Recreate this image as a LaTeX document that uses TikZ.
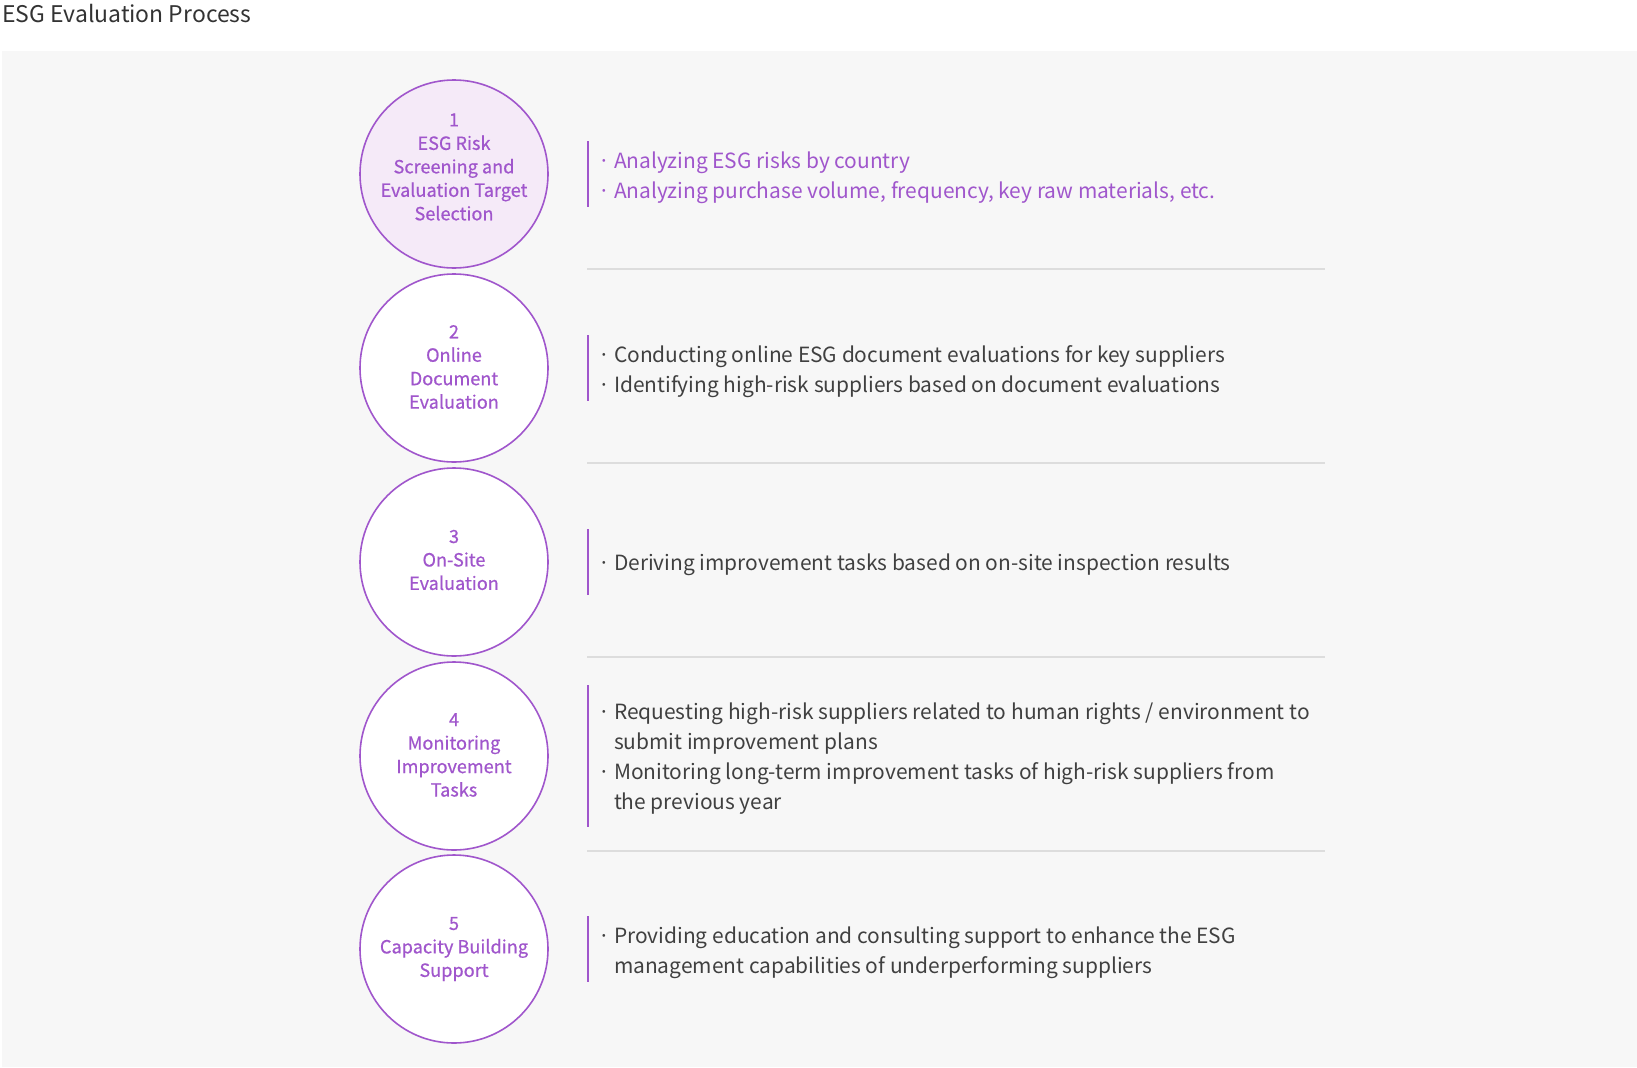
\documentclass[tikz,border=0pt]{standalone}
\usepackage{fontspec}
\setmainfont{Noto Sans CJK KR}
\newfontfamily\circfont{Noto Sans CJK KR}[FakeBold=0.6]
\definecolor{bggray}{HTML}{F7F7F7}
\definecolor{esgpurple}{HTML}{A056CC}
\definecolor{lavfill}{HTML}{F5EAF8}
\definecolor{sepgray}{HTML}{DDDDDD}
\definecolor{bodygray}{HTML}{404040}
\definecolor{titlegray}{HTML}{333333}
\tikzset{
  stepcircle/.style={circle, draw=esgpurple, line width=1.2pt, fill=white, minimum size=141pt, inner sep=0pt},
  steplabel/.style={inner sep=0pt, align=center, text=esgpurple, font=\circfont\fontsize{13.6}{17.6}\selectfont},
  itemtext/.style={anchor=west, inner sep=0pt, font=\fontsize{15.7}{22.5}\selectfont, text=bodygray},
  vbar/.style={draw=esgpurple, line width=1.3pt},
  sepline/.style={draw=sepgray, line width=1.3pt},
}
\newcommand{\itembl}{\textperiodcentered}
\begin{document}
\begin{tikzpicture}[x=0.75pt,y=-0.75pt]
\useasboundingbox (0,0) rectangle (1637,1067);
\fill[bggray] (2,51) rectangle (1637,1067);
\node[anchor=base west, inner sep=0pt, font=\fontsize{17.2}{22}\selectfont, text=titlegray] (title) at (2,22) {ESG Evaluation Process};

% circles
\node[stepcircle, fill=lavfill] (c1) at (454,174) {};
\node[stepcircle] (c2) at (454,368) {};
\node[stepcircle] (c3) at (454,562) {};
\node[stepcircle] (c4) at (454,756) {};
\node[stepcircle] (c5) at (454,949) {};
\node[steplabel] (l1) at (454,167) {1\\ESG Risk\\Screening and\\Evaluation Target\\Selection};
\node[steplabel] (l2) at (454,367) {2\\Online\\Document\\Evaluation};
\node[steplabel] (l3) at (454,560) {3\\On-Site\\Evaluation};
\node[steplabel] (l4) at (454,755) {4\\Monitoring\\Improvement\\Tasks};
\node[steplabel] (l5) at (454,949) {5\\Capacity Building\\Support};

% separators
\draw[sepline] (587,269) -- (1325,269);
\draw[sepline] (587,463) -- (1325,463);
\draw[sepline] (587,657) -- (1325,657);
\draw[sepline] (587,851) -- (1325,851);

% vertical bars
\draw[vbar] (588,141) -- (588,207);
\draw[vbar] (588,335) -- (588,401);
\draw[vbar] (588,529) -- (588,595);
\draw[vbar] (588,685) -- (588,827);
\draw[vbar] (588,916) -- (588,982);

% texts
\node[itemtext, text=esgpurple] (t1) at (598,177) {\begin{tabular}{@{}l@{\hspace{3pt}}l@{}}
\itembl & Analyzing ESG risks by country\\
\itembl & Analyzing purchase volume, frequency, key raw materials, etc.
\end{tabular}};
\node[itemtext] (t2) at (598,371) {\begin{tabular}{@{}l@{\hspace{3pt}}l@{}}
\itembl & Conducting online ESG document evaluations for key suppliers\\
\itembl & Identifying high-risk suppliers based on document evaluations
\end{tabular}};
\node[itemtext] (t3) at (598,564) {\begin{tabular}{@{}l@{\hspace{3pt}}l@{}}
\itembl & Deriving improvement tasks based on on-site inspection results
\end{tabular}};
\node[itemtext] (t4) at (598,758) {\begin{tabular}{@{}l@{\hspace{3pt}}l@{}}
\itembl & Requesting high-risk suppliers related to human rights / environment to\\
 & submit improvement plans\\
\itembl & Monitoring long-term improvement tasks of high-risk suppliers from\\
 & the previous year
\end{tabular}};
\node[itemtext] (t5) at (598,952) {\begin{tabular}{@{}l@{\hspace{3pt}}l@{}}
\itembl & Providing education and consulting support to enhance the ESG\\
 & management capabilities of underperforming suppliers
\end{tabular}};
\end{tikzpicture}
\end{document}
